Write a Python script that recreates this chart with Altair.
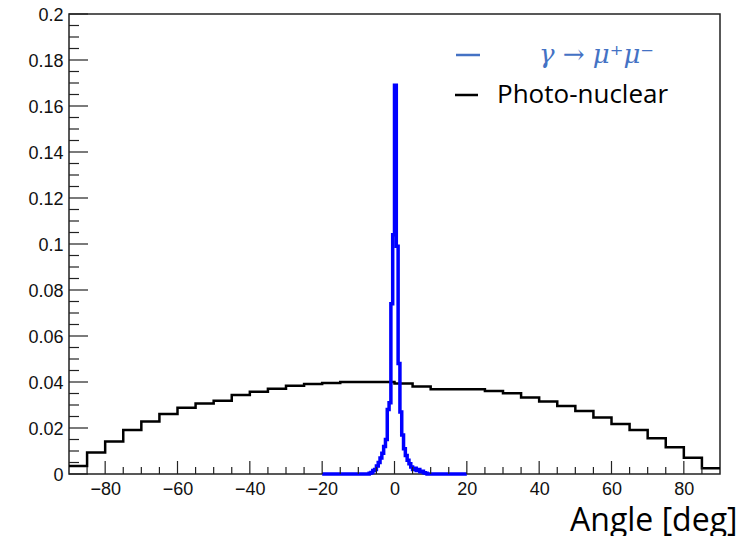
import altair as alt
import pandas as pd

# ---------------- data ----------------
# Photo-nuclear histogram: 5 deg bins from -90 to 90
black_edges = list(range(-90, 91, 5))
black_vals = [0.0035, 0.0093, 0.0141, 0.0191, 0.0228, 0.0261, 0.0288, 0.0307, 0.0319,
              0.0343, 0.0358, 0.0371, 0.0384, 0.0391, 0.0396, 0.0400, 0.0400, 0.0400,
              0.0394, 0.0380, 0.0368, 0.0368, 0.0368, 0.0361, 0.0351, 0.0333, 0.0315,
              0.0296, 0.0274, 0.0246, 0.0217, 0.0191, 0.0155, 0.0116, 0.0071, 0.0025]

# gamma -> mu+ mu- histogram: 0.5 deg bins from -20 to 20
blue_edges = [-20 + 0.5 * i for i in range(81)]
blue_vals = ([0.0] * 26 +
             [0.0003, 0.0007, 0.0015, 0.0020, 0.0035, 0.0050, 0.0070, 0.0090,
              0.0120, 0.0150, 0.0280, 0.0310, 0.0740, 0.1040, 0.1690, 0.0990,
              0.0480, 0.0270, 0.0170, 0.0110, 0.0080, 0.0060, 0.0045, 0.0030,
              0.0020, 0.0025, 0.0015, 0.0020, 0.0010, 0.0012, 0.0005, 0.0003] +
             [0.0] * 22)

x_major = [-80, -60, -40, -20, 0, 20, 40, 60, 80]
x_minor = [-85, -75, -70, -65, -55, -50, -45, -35, -30, -25, -15, -10, -5,
           5, 10, 15, 25, 30, 35, 45, 50, 55, 65, 70, 75, 85]
y_major = [0, 0.02, 0.04, 0.06, 0.08, 0.1, 0.12, 0.14, 0.16, 0.18, 0.2]
y_minor = [round(0.005 * i, 3) for i in range(41) if i % 4]

legend_labels = ["\u03b3 \u2192 \u03bc\u207a\u03bc\u207b", "Photo-nuclear"]
x_title = "Angle [deg]"


def steps(edges, vals):
    rows = [{"x": e, "y": v} for e, v in zip(edges[:-1], vals)]
    rows.append({"x": edges[-1], "y": vals[-1]})
    return pd.DataFrame(rows)


W, H = 651, 460
xs = alt.Scale(domain=[-90, 90], nice=False, zero=False)
ys = alt.Scale(domain=[0, 0.2], nice=False, zero=False)

label_font = "Liberation Sans"
axis_color = "#222222"

x_axis = alt.Axis(
    values=x_major, format="d", ticks=False, tickSize=0, domain=False, grid=False,
    labelFont=label_font, labelFontSize=18, labelColor="#111111", labelPadding=6,
    labelFlush=False, labelOverlap=False,
    title=x_title, titleFont="Open Sans", titleFontSize=32, titleFontWeight="normal",
    titleColor="black", titleAlign="right", titleBaseline="alphabetic",
    titleX=668, titleY=56)
y_axis = alt.Axis(
    values=y_major, format="~g", ticks=False, tickSize=0, domain=False, grid=False,
    labelFont=label_font, labelFontSize=18, labelColor="#111111", labelPadding=6,
    labelOffset=1.5, labelFlush=False, labelOverlap=False, title=None)

X = lambda: alt.X("x:Q", scale=xs, axis=x_axis, title=x_title)
Y = lambda: alt.Y("y:Q", scale=ys, axis=y_axis, title=None)

black = alt.Chart(steps(black_edges, black_vals)).mark_line(
    interpolate="step-after", color="black", strokeWidth=2.5
).encode(x=X(), y=Y())

blue = alt.Chart(steps(blue_edges, blue_vals)).mark_line(
    interpolate="step-after", color="#0000ff", strokeWidth=3.5
).encode(x=X(), y=Y())

ytick_major = alt.Chart(pd.DataFrame({"y": y_major})).mark_rule(
    color=axis_color, strokeWidth=1.2).encode(
    y=Y(), x=alt.value(0), x2=alt.value(19))
ytick_minor = alt.Chart(pd.DataFrame({"y": y_minor})).mark_rule(
    color=axis_color, strokeWidth=1.2).encode(
    y=Y(), x=alt.value(0), x2=alt.value(10))
xtick_major = alt.Chart(pd.DataFrame({"x": x_major})).mark_rule(
    color=axis_color, strokeWidth=1.2).encode(
    x=X(), y=alt.value(H), y2=alt.value(H - 13))
xtick_minor = alt.Chart(pd.DataFrame({"x": x_minor})).mark_rule(
    color=axis_color, strokeWidth=1.2).encode(
    x=X(), y=alt.value(H), y2=alt.value(H - 7))

one = pd.DataFrame({"s": [0]})
leg_blue_line = alt.Chart(one).mark_rule(color="#4472C4", strokeWidth=2.5).encode(
    x=alt.value(387), x2=alt.value(411), y=alt.value(41))
leg_black_line = alt.Chart(one).mark_rule(color="black", strokeWidth=2.5).encode(
    x=alt.value(386), x2=alt.value(409), y=alt.value(81))
leg_blue_text = alt.Chart(pd.DataFrame({"t": [legend_labels[0]]})).mark_text(
    align="left", baseline="alphabetic", font="DejaVu Serif", fontStyle="italic",
    fontSize=26, color="#4472C4").encode(
    text="t:N", x=alt.value(470), y=alt.value(49))
leg_black_text = alt.Chart(pd.DataFrame({"t": [legend_labels[1]]})).mark_text(
    align="left", baseline="alphabetic", font="Open Sans", fontSize=26,
    color="black").encode(
    text="t:N", x=alt.value(428), y=alt.value(89))

chart = alt.layer(
    black, blue, ytick_major, ytick_minor, xtick_major, xtick_minor,
    leg_blue_line, leg_black_line, leg_blue_text, leg_black_text
).properties(
    width=W, height=H,
    autosize=alt.AutoSizeParams(type="none"),
    padding={"left": 61, "top": 6, "right": 26, "bottom": 62},
    background="white",
).configure_view(stroke=axis_color, strokeWidth=1.5)

chart.save("out.html", embed_options={"renderer": "svg", "actions": False})
